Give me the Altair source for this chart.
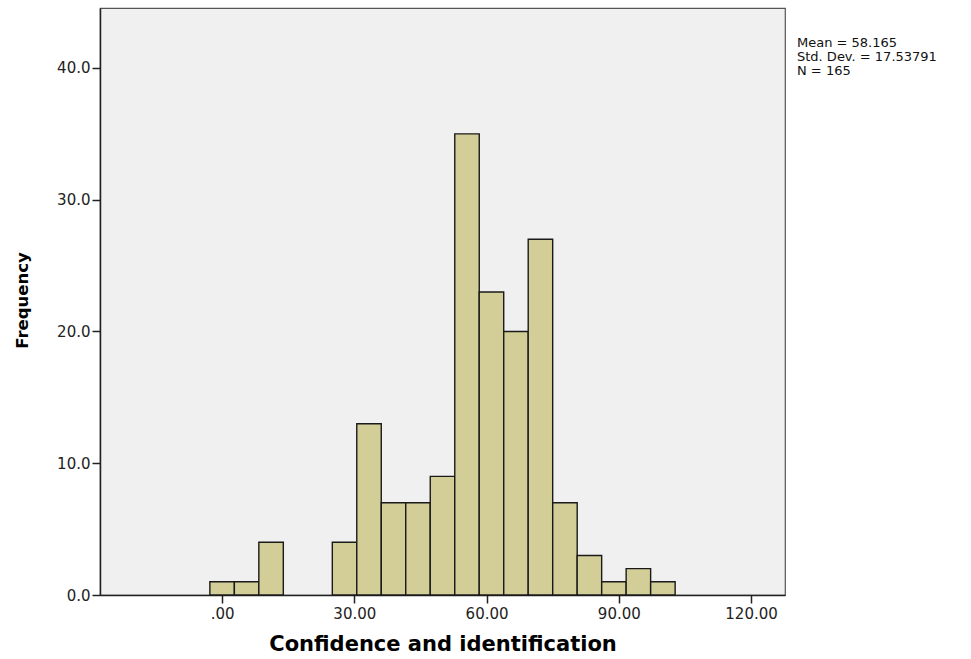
import altair as alt
import pandas as pd

# Histogram bins (SPSS style, width 100/18) and frequencies
bin_centers = [0.0, 5.56, 11.11, 16.67, 22.22, 27.78, 33.33, 38.89, 44.44, 50.0,
               55.56, 61.11, 66.67, 72.22, 77.78, 83.33, 88.89, 94.44, 100.0]
counts = [1, 1, 4, 0, 0, 4, 13, 7, 7, 9, 35, 23, 20, 27, 7, 3, 1, 2, 1]
bin_width = 100.0 / 18.0

x_ticks = [0, 30, 60, 90, 120]
y_ticks = [0, 10, 20, 30, 40]
stats_lines = ["Mean = 58.165", "Std. Dev. = 17.53791", "N = 165"]

rows = []
for c, n in zip(bin_centers, counts):
    if n > 0:
        rows.append({"start": c - bin_width / 2, "end": c + bin_width / 2,
                     "count": n, "base": 0})
df = pd.DataFrame(rows)

x_scale = alt.Scale(domain=[-27.7, 127.7], nice=False, zero=False)
y_scale = alt.Scale(domain=[0, 44.55], nice=False)

bars = alt.Chart(df).mark_bar(
    fill="#D3CE97", stroke="#1a1a1a", strokeWidth=1.4, opacity=1
).encode(
    x=alt.X("start:Q", scale=x_scale,
            axis=alt.Axis(values=x_ticks, title="Confidence and identification",
                          labelExpr="datum.value == 0 ? '.00' : format(datum.value, '.2f')",
                          grid=False, tickSize=8, labelPadding=3,
                          titleY=49, titleBaseline="middle")),
    x2="end:Q",
    y=alt.Y("count:Q", scale=y_scale,
            axis=alt.Axis(values=y_ticks, format=".1f", title="Frequency",
                          grid=False, tickSize=8, labelPadding=2,
                          titleAngle=-90, titleX=-78, titleY=292,
                          titleBaseline="middle", titleAlign="center")),
    y2="base:Q",
)

stats = alt.Chart(pd.DataFrame({"t": [stats_lines]})).mark_text(
    align="left", baseline="top", font="DejaVu Sans", fontSize=13,
    lineHeight=14, color="#111111"
).encode(
    x=alt.value(697),
    y=alt.value(29),
    text="t",
)

chart = alt.layer(bars, stats).properties(
    width=685, height=587,
    autosize=alt.AutoSizeParams(type="none"),
    padding={"left": 100, "top": 8, "right": 186, "bottom": 64},
    background="white",
).configure_view(
    fill="#F0F0F0", stroke="#555555", strokeWidth=1.2
).configure_axis(
    domain=True, domainColor="#222222", domainWidth=1.5,
    tickColor="#222222", tickWidth=1.5,
    labelFont="DejaVu Sans", labelFontSize=15, labelColor="#222222",
    titleFont="DejaVu Sans", titleFontWeight="bold", titleColor="#000000",
).configure_axisX(
    titleFontSize=21
).configure_axisY(
    titleFontSize=16.5
)

chart.save("out.html", embed_options={"renderer": "svg", "actions": False})
